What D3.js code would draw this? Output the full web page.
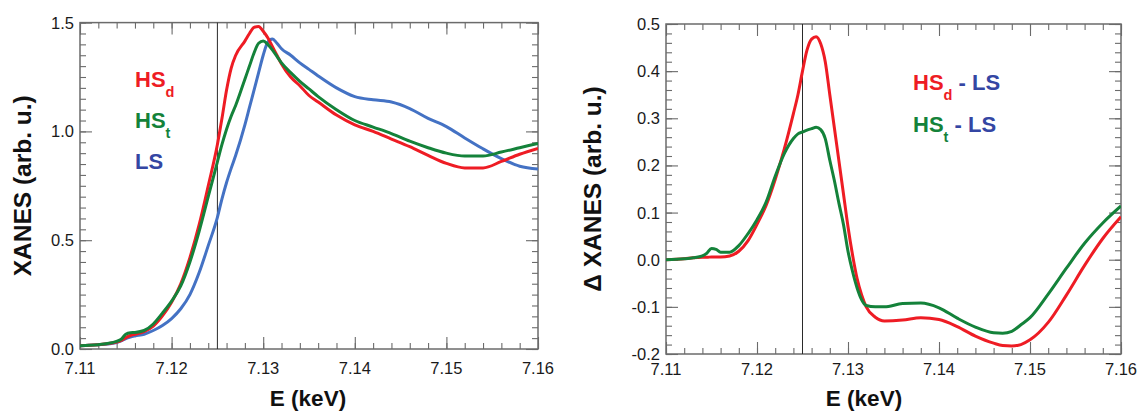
<!DOCTYPE html>
<html><head><meta charset="utf-8">
<script src="https://cdn.jsdelivr.net/npm/d3@7"></script>
<style>html,body{margin:0;padding:0;background:#fff;}svg{display:block;}</style>
</head><body>
<script>
// ---------- DATA ----------
const energyL = [7.110,7.111,7.112,7.113,7.114,7.1145,7.115,7.1155,7.116,7.117,7.118,7.119,7.120,7.121,7.122,7.123,7.124,7.125,7.1255,7.126,7.1265,7.127,7.128,7.1285,7.129,7.1295,7.130,7.1305,7.131,7.1315,7.132,7.133,7.134,7.135,7.136,7.138,7.140,7.142,7.144,7.146,7.148,7.150,7.152,7.154,7.156,7.158,7.160];
const hsD = [0.015,0.017,0.020,0.024,0.032,0.040,0.052,0.062,0.068,0.080,0.105,0.152,0.215,0.300,0.420,0.570,0.750,0.940,1.060,1.190,1.290,1.350,1.415,1.450,1.478,1.482,1.460,1.430,1.390,1.350,1.310,1.250,1.210,1.165,1.135,1.075,1.030,1.000,0.965,0.930,0.890,0.853,0.832,0.832,0.862,0.895,0.922];
const hsT = [0.015,0.017,0.020,0.025,0.035,0.045,0.068,0.075,0.076,0.085,0.115,0.165,0.220,0.290,0.400,0.540,0.700,0.860,0.940,1.010,1.070,1.120,1.240,1.300,1.360,1.405,1.415,1.400,1.375,1.345,1.315,1.270,1.230,1.195,1.160,1.100,1.050,1.020,0.990,0.955,0.925,0.900,0.887,0.887,0.905,0.925,0.945];
const ls  = [0.015,0.017,0.020,0.023,0.030,0.037,0.048,0.055,0.060,0.068,0.085,0.108,0.140,0.185,0.250,0.350,0.475,0.605,0.690,0.765,0.830,0.890,1.030,1.110,1.190,1.270,1.350,1.410,1.425,1.405,1.380,1.350,1.315,1.285,1.255,1.200,1.160,1.145,1.135,1.105,1.060,1.022,0.970,0.920,0.875,0.840,0.827];

const energyR = [7.110,7.112,7.113,7.114,7.1145,7.115,7.1155,7.116,7.117,7.118,7.119,7.120,7.121,7.122,7.123,7.124,7.1245,7.125,7.1255,7.126,7.1265,7.127,7.1275,7.128,7.1285,7.129,7.1295,7.130,7.1305,7.131,7.1315,7.132,7.133,7.134,7.136,7.138,7.140,7.142,7.144,7.146,7.147,7.148,7.149,7.150,7.152,7.154,7.156,7.158,7.160];
const diffD = [0.000,0.002,0.004,0.005,0.005,0.006,0.006,0.006,0.008,0.018,0.040,0.075,0.115,0.170,0.235,0.310,0.350,0.400,0.445,0.468,0.473,0.458,0.420,0.350,0.280,0.210,0.140,0.070,0.010,-0.040,-0.075,-0.100,-0.122,-0.130,-0.128,-0.123,-0.127,-0.142,-0.162,-0.177,-0.182,-0.183,-0.180,-0.170,-0.133,-0.075,-0.012,0.045,0.091];
const diffT = [0.000,0.002,0.004,0.008,0.014,0.024,0.022,0.016,0.016,0.030,0.055,0.085,0.122,0.177,0.225,0.257,0.267,0.271,0.275,0.278,0.281,0.276,0.257,0.211,0.168,0.120,0.075,0.018,-0.025,-0.060,-0.085,-0.097,-0.100,-0.100,-0.093,-0.092,-0.102,-0.124,-0.143,-0.155,-0.156,-0.152,-0.138,-0.123,-0.073,-0.018,0.035,0.078,0.114];

const xTicks = [7.11,7.12,7.13,7.14,7.15,7.16];
const yTicksL = [0.0,0.5,1.0,1.5];
const yTicksR = [-0.2,-0.1,0.0,0.1,0.2,0.3,0.4,0.5];
const markerE = 7.125;

// ---------- STYLE ----------
const RED = "#ee1c24", GREEN = "#14823a", BLUE = "#4472c4", LSBLUE = "#3446a3";
const FONT = "'Liberation Sans', Arial, Helvetica, sans-serif";
const FRAME = "#6b6b6b";

const svg = d3.select("body").append("svg").attr("width",1140).attr("height",414)
  .style("font-family",FONT);

function panel(cfg){
  const x = d3.scaleLinear().domain([7.11,7.16]).range([cfg.x0,cfg.x1]);
  const y = d3.scaleLinear().domain(cfg.yDomain).range([cfg.yBot,cfg.yTop]);
  const g = svg.append("g");
  const id = "clip"+cfg.name;
  svg.append("defs").append("clipPath").attr("id",id).append("rect")
    .attr("x",cfg.x0).attr("y",cfg.yTop).attr("width",cfg.x1-cfg.x0).attr("height",cfg.yBot-cfg.yTop);

  const xMinor = d3.range(0,26).map(i=>+(7.11+i*0.002).toFixed(3));
  const yMinor = cfg.yMinor;

  function ticks(axisGen, scale, vals, size, tr){
    const a = g.append("g").attr("transform",tr)
      .call(axisGen(scale).tickValues(vals).tickSize(-size).tickSizeOuter(0).tickFormat(""));
    a.select(".domain").remove();
    a.selectAll("line").attr("stroke",FRAME).attr("stroke-width",1.1);
  }
  ticks(d3.axisBottom,x,xMinor,6,`translate(0,${cfg.yBot})`);
  ticks(d3.axisBottom,x,xTicks,12,`translate(0,${cfg.yBot})`);
  ticks(d3.axisTop,x,xMinor,6,`translate(0,${cfg.yTop})`);
  ticks(d3.axisTop,x,xTicks,12,`translate(0,${cfg.yTop})`);
  ticks(d3.axisLeft,y,yMinor,6,`translate(${cfg.x0},0)`);
  ticks(d3.axisLeft,y,cfg.yMajor,12,`translate(${cfg.x0},0)`);
  ticks(d3.axisRight,y,yMinor,6,`translate(${cfg.x1},0)`);
  ticks(d3.axisRight,y,cfg.yMajor,12,`translate(${cfg.x1},0)`);

  g.append("rect").attr("x",cfg.x0).attr("y",cfg.yTop).attr("width",cfg.x1-cfg.x0).attr("height",cfg.yBot-cfg.yTop)
    .attr("fill","none").attr("stroke",FRAME).attr("stroke-width",1.5);

  // tick labels
  g.append("g").selectAll("text").data(xTicks).join("text")
    .attr("x",d=>x(d)).attr("y",cfg.xLabBase).attr("text-anchor","middle")
    .attr("font-size",16.5).attr("fill","#1a1a1a").text(d=>d.toFixed(2));
  g.append("g").selectAll("text").data(cfg.yLabels).join("text")
    .attr("x",cfg.x0-6).attr("y",d=>y(d)).attr("dy","0.36em").attr("text-anchor","end")
    .attr("font-size",16.5).attr("fill","#1a1a1a").text(d=>d.toFixed(1));

  // marker line
  g.append("line").attr("x1",x(markerE)).attr("x2",x(markerE)).attr("y1",cfg.yTop).attr("y2",cfg.yBot)
    .attr("stroke","#2a2a2a").attr("stroke-width",1);

  const line = d3.line().x((d,i)=>x(cfg.energy[i])).y(d=>y(d)).curve(d3.curveMonotoneX);
  const lg = g.append("g").attr("clip-path",`url(#${id})`);
  cfg.series.forEach(s=>{
    lg.append("path").attr("d",line(s.values)).attr("fill","none")
      .attr("stroke",s.color).attr("stroke-width",3).attr("stroke-linejoin","round");
  });

  // titles
  g.append("text").attr("x",cfg.xTitleX).attr("y",406).attr("text-anchor","middle")
    .attr("font-size",22.5).attr("font-weight","bold").attr("fill","#111").text("E (keV)");
  g.append("text").attr("transform",`translate(${cfg.yTitleX},${(cfg.yTop+cfg.yBot)/2}) rotate(-90)`)
    .attr("text-anchor","middle").attr("font-size",24.5).attr("font-weight","bold").attr("fill","#111")
    .text(cfg.yTitle);
  return g;
}

panel({name:"L",x0:80,x1:538,yTop:22.6,yBot:349,yDomain:[0,1.5],
  yMajor:yTicksL, yLabels:yTicksL, yMinor:d3.range(0,31).map(i=>+(i*0.05).toFixed(2)),
  xLabBase:374, xTitleX:308, yTitleX:31, yTitle:"XANES (arb. u.)",
  energy:energyL,
  series:[{values:ls,color:BLUE},{values:hsD,color:RED},{values:hsT,color:GREEN}]});

panel({name:"R",x0:666,x1:1121,yTop:24,yBot:354,yDomain:[-0.2,0.5],
  yMajor:yTicksR, yLabels:yTicksR, yMinor:d3.range(0,36).map(i=>+(-0.2+i*0.02).toFixed(2)),
  xLabBase:375, xTitleX:864, yTitleX:601, yTitle:"\u0394 XANES (arb. u.)",
  energy:energyR,
  series:[{values:diffD,color:RED},{values:diffT,color:GREEN}]});

// legends
function legendItem(x, yb, main, sub, color, rest){
  const t = svg.append("text").attr("x",x).attr("y",yb).attr("font-size",22).attr("font-weight","bold").attr("fill",color);
  t.append("tspan").text(main);
  if(sub){ t.append("tspan").attr("dy",10).attr("font-size",14.5).text(sub); }
  if(rest){ t.append("tspan").attr("dy",sub?-10:0).attr("fill",LSBLUE).text(rest); }
}
legendItem(135,87,"HS","d",RED,null);
legendItem(135,128,"HS","t",GREEN,null);
legendItem(135,169,"LS",null,LSBLUE,null);
legendItem(913,90,"HS","d",RED,"\u00a0- LS");
legendItem(913,131.5,"HS","t",GREEN,"\u00a0- LS");
</script>
</body></html>
